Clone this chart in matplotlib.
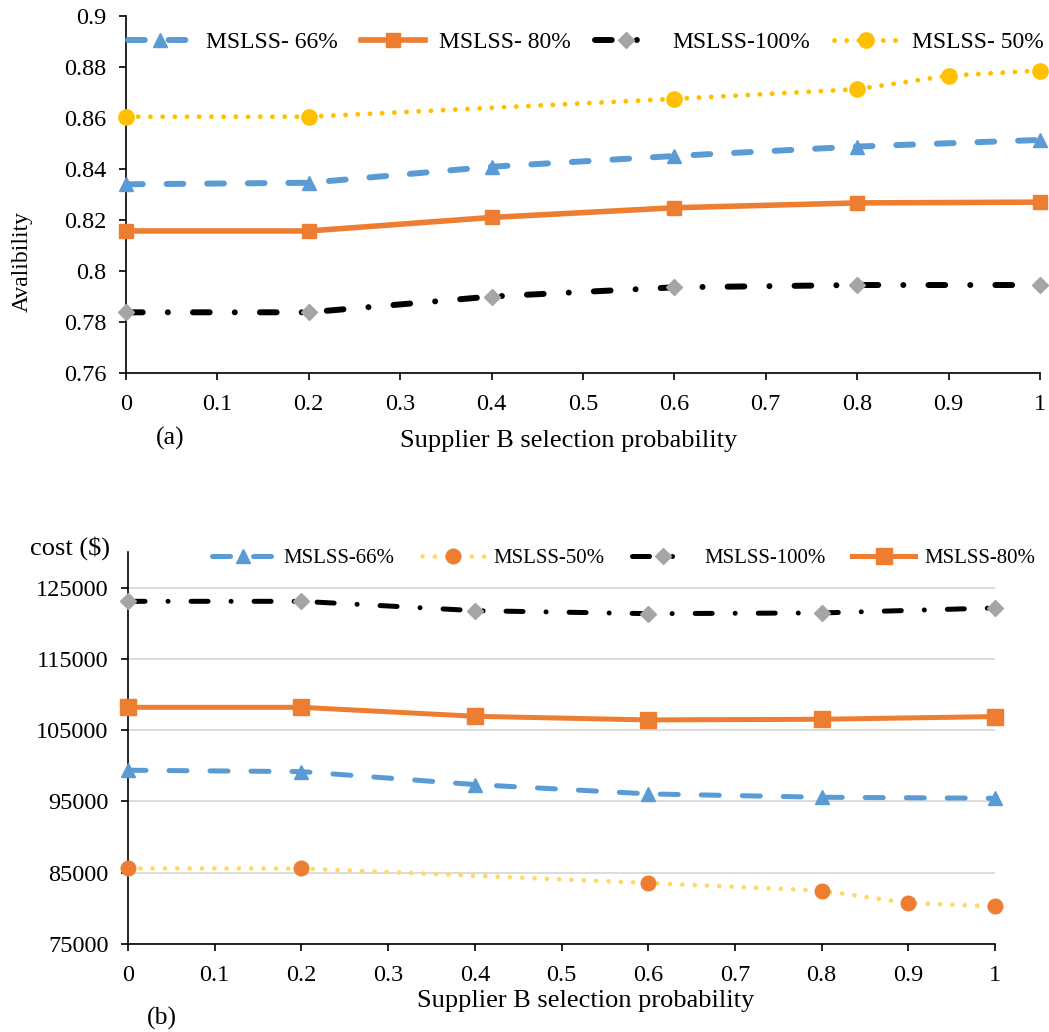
import numpy as np
import matplotlib
matplotlib.use("Agg")
import matplotlib.pyplot as plt
from matplotlib.ticker import FixedLocator, FixedFormatter

plt.rcParams['font.family'] = ['Liberation Serif', 'DejaVu Serif']

# ---------------- data ----------------
# (a) availability
x_a = [0, 0.2, 0.4, 0.6, 0.8, 1.0]
x_a50 = [0, 0.2, 0.6, 0.8, 0.9, 1.0]
avail_66 = [0.8340, 0.8346, 0.8409, 0.8451, 0.8488, 0.8514]
avail_80 = [0.8157, 0.8157, 0.8210, 0.8248, 0.8267, 0.8270]
avail_100 = [0.7838, 0.7838, 0.7900, 0.7936, 0.7945, 0.7945]
avail_50 = [0.8605, 0.8605, 0.8675, 0.8713, 0.8766, 0.8786]

# (b) cost
x_b = [0, 0.2, 0.4, 0.6, 0.8, 1.0]
x_b50 = [0, 0.2, 0.6, 0.8, 0.9, 1.0]
cost_66 = [99380, 99190, 97370, 96060, 95590, 95450]
cost_50 = [85600, 85600, 83560, 82480, 80760, 80280]
cost_100 = [123080, 123080, 121770, 121350, 121450, 122150]
cost_80 = [108210, 108210, 106950, 106440, 106530, 106910]

x_ticks = [0, 0.1, 0.2, 0.3, 0.4, 0.5, 0.6, 0.7, 0.8, 0.9, 1.0]
x_tick_labels = ["0", "0.1", "0.2", "0.3", "0.4", "0.5", "0.6", "0.7", "0.8", "0.9", "1"]
a_yticks = [0.76, 0.78, 0.80, 0.82, 0.84, 0.86, 0.88, 0.90]
a_ytick_labels = ["0.76", "0.78", "0.8", "0.82", "0.84", "0.86", "0.88", "0.9"]
b_yticks = [75000, 85000, 95000, 105000, 115000, 125000]
b_ytick_labels = ["75000", "85000", "95000", "105000", "115000", "125000"]

BLUE = '#5B9BD5'
ORANGE = '#ED7D31'
GRAY = '#A5A5A5'
GOLD = '#FFC000'
LIGHTGOLD = '#FFD966'

W, H = 1049, 1032
fig = plt.figure(figsize=(W / 100, H / 100), dpi=100)

def fx(px):
    return px / W

def fy(py):
    return 1 - py / H

# ---------------- panel (a) ----------------
ax1 = fig.add_axes([fx(126), fy(373), fx(1040) - fx(126), fy(16) - fy(373)])
lw1 = 4.3
l66, = ax1.plot(x_a, avail_66, color=BLUE, lw=lw1, dashes=(2.8, 4.0),
                dash_capstyle='round', marker='^', ms=10, mec=BLUE, mfc=BLUE,
                clip_on=False, zorder=3, label='MSLSS- 66%')
l80, = ax1.plot(x_a, avail_80, color=ORANGE, lw=lw1 - 0.3, marker='s', ms=10,
                mec=ORANGE, mfc=ORANGE, clip_on=False, zorder=3, label='MSLSS- 80%')
l100, = ax1.plot(x_a, avail_100, color='black', lw=lw1, dashes=(2.8, 4.2, 0.01, 4.2),
                 dash_capstyle='round', marker='D', ms=8.5, mec=GRAY, mfc=GRAY,
                 clip_on=False, zorder=3, label='MSLSS-100%')
l50, = ax1.plot(x_a50, avail_50, color=GOLD, lw=3.5, dashes=(0.01, 2.5),
                dash_capstyle='round', marker='o', ms=11, mec=GOLD, mfc=GOLD,
                clip_on=False, zorder=3, label='MSLSS- 50%')

ax1.set_xlim(0, 1)
ax1.set_ylim(0.76, 0.90)
ax1.xaxis.set_major_locator(FixedLocator(x_ticks))
ax1.xaxis.set_major_formatter(FixedFormatter(x_tick_labels))
ax1.yaxis.set_major_locator(FixedLocator(a_yticks))
ax1.yaxis.set_major_formatter(FixedFormatter(a_ytick_labels))
for s in ['top', 'right']:
    ax1.spines[s].set_visible(False)
for s in ['left', 'bottom']:
    ax1.spines[s].set_linewidth(1.2)
ax1.tick_params(axis='both', direction='out', length=5, width=1.2, labelsize=17.5)
ax1.tick_params(axis='y', pad=9)
ax1.tick_params(axis='x', pad=10)
ax1.set_xlabel('Supplier B selection probability', fontsize=19)
ax1.xaxis.set_label_coords((569 - 126) / 914, (373 - 441) / 357)
ax1.xaxis.label.set_va('center')
ax1.set_ylabel('Avalibility', fontsize=17)
ax1.yaxis.set_label_coords((22 - 126) / 914, (373 - 261) / 357)
ax1.yaxis.label.set_va('center')

ax1.legend(handles=[l66, l80, l100, l50], loc='center left',
           bbox_to_anchor=(fx(128), fy(42)), bbox_transform=fig.transFigure,
           ncol=4, frameon=False, fontsize=17, borderpad=0, borderaxespad=0,
           handlelength=2.7, handletextpad=0.6, columnspacing=1.0, numpoints=1)
fig.text(fx(170), fy(438), '(a)', fontsize=18.5, ha='center', va='center')

# ---------------- panel (b) ----------------
ax2 = fig.add_axes([fx(128), fy(944), fx(995) - fx(128), fy(552) - fy(944)])
lw2 = 3.6
ax2.set_axisbelow(True)
ax2.grid(axis='y', color='#D9D9D9', lw=1.3)
m66, = ax2.plot(x_b, cost_66, color=BLUE, lw=lw2, dashes=(3.6, 4.6),
                dash_capstyle='round', marker='^', ms=10.5, mec=BLUE, mfc=BLUE,
                clip_on=False, zorder=3, label='MSLSS-66%')
m50, = ax2.plot(x_b50, cost_50, color=LIGHTGOLD, lw=3.4, dashes=(0.01, 2.6),
                dash_capstyle='round', marker='o', ms=10.5, mec=ORANGE, mfc=ORANGE,
                clip_on=False, zorder=3, label='MSLSS-50%')
m100, = ax2.plot(x_b, cost_100, color='black', lw=lw2, dashes=(3.4, 4.6, 0.01, 4.6),
                 dash_capstyle='round', marker='D', ms=8.5, mec=GRAY, mfc=GRAY,
                 clip_on=False, zorder=3, label='MSLSS-100%')
m80, = ax2.plot(x_b, cost_80, color=ORANGE, lw=lw2, marker='s', ms=11,
                mec=ORANGE, mfc=ORANGE, clip_on=False, zorder=3, label='MSLSS-80%')

ax2.set_xlim(0, 1)
ax2.set_ylim(75000, 130000)
ax2.xaxis.set_major_locator(FixedLocator(x_ticks))
ax2.xaxis.set_major_formatter(FixedFormatter(x_tick_labels))
ax2.yaxis.set_major_locator(FixedLocator(b_yticks))
ax2.yaxis.set_major_formatter(FixedFormatter(b_ytick_labels))
for s in ['top', 'right']:
    ax2.spines[s].set_visible(False)
for s in ['left', 'bottom']:
    ax2.spines[s].set_linewidth(1.2)
ax2.tick_params(axis='both', direction='out', length=5, width=1.2, labelsize=17.5)
ax2.tick_params(axis='y', pad=9)
ax2.tick_params(axis='x', pad=10)
ax2.set_xlabel('Supplier B selection probability', fontsize=19)
ax2.xaxis.set_label_coords((586 - 128) / 867, (944 - 1001) / 392)
ax2.xaxis.label.set_va('center')
ax2.set_ylabel('cost ($)', fontsize=19, rotation=0)
ax2.yaxis.set_label_coords((70 - 128) / 867, (944 - 548) / 392)
ax2.yaxis.label.set_va('center')
ax2.yaxis.label.set_ha('center')

ax2.legend(handles=[m66, m50, m100, m80], loc='center left',
           bbox_to_anchor=(fx(212), fy(558)), bbox_transform=fig.transFigure,
           ncol=4, frameon=False, fontsize=15, borderpad=0, borderaxespad=0,
           handlelength=3.0, handletextpad=0.45, columnspacing=1.3, numpoints=1)
fig.text(fx(162), fy(1018), '(b)', fontsize=18.5, ha='center', va='center')

fig.savefig('out.png', dpi=100)
